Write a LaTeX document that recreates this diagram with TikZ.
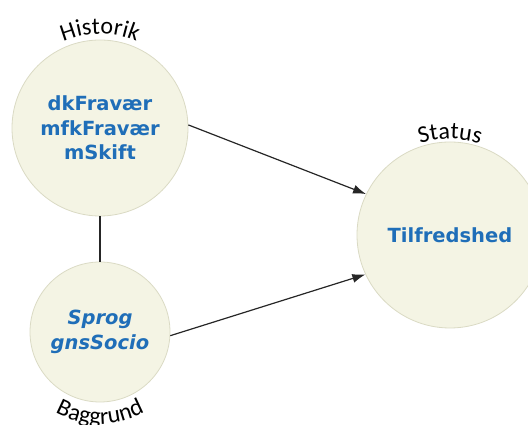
\documentclass[tikz,border=0pt]{standalone}
\usepackage{fontspec}
\newfontfamily\labfont{Carlito}
\newfontfamily\varfont{DejaVu Sans}
\usetikzlibrary{arrows.meta,decorations.text}
\definecolor{circfill}{RGB}{244,244,228}
\definecolor{circline}{RGB}{218,218,196}
\definecolor{varblue}{RGB}{31,110,184}
\tikzset{
  latent/.style={circle, draw=circline, line width=0.8pt, fill=circfill, inner sep=0pt, align=center,
    text=varblue, font=\varfont\bfseries\fontsize{19.5}{24.5}\selectfont},
  link/.style={line width=1.2pt, draw=black!85},
  arrowlink/.style={link, -{Latex[length=13pt,width=9pt]}},
  arclabel/.style={decorate, decoration={text along path, text align=center,
    text={|\labfont\fontsize{24}{24}\selectfont|#1}}}
}
\begin{document}
\begin{tikzpicture}[x=1pt,y=1pt]
\path[use as bounding box] (0,0) rectangle (528,425);
\node[latent, minimum size=176pt] (hist) at (100,297) {dkFravær\\mfkFravær\\mSkift};
\node[latent, minimum size=140pt, font=\varfont\bfseries\itshape\fontsize{19.5}{24.5}\selectfont] (bagg) at (100,93) {Sprog\\gnsSocio};
\node[latent, minimum size=186pt] (stat) at (450,190) {Tilfredshed};
\draw[link] (hist.south) -- (bagg.north);
\draw[arrowlink] (hist.2) -- (stat.154);
\draw[arrowlink] (bagg.-3) -- (stat.205);
\path[arclabel={Historik}] (hist.center) ++(150:94) arc[start angle=150, end angle=30, radius=94];
\path[arclabel={Baggrund}] (bagg.center) ++(220:92) arc[start angle=220, end angle=320, radius=92];
\path[arclabel={Status}] (stat.center) ++(130:96) arc[start angle=130, end angle=50, radius=96];
\end{tikzpicture}
\end{document}
